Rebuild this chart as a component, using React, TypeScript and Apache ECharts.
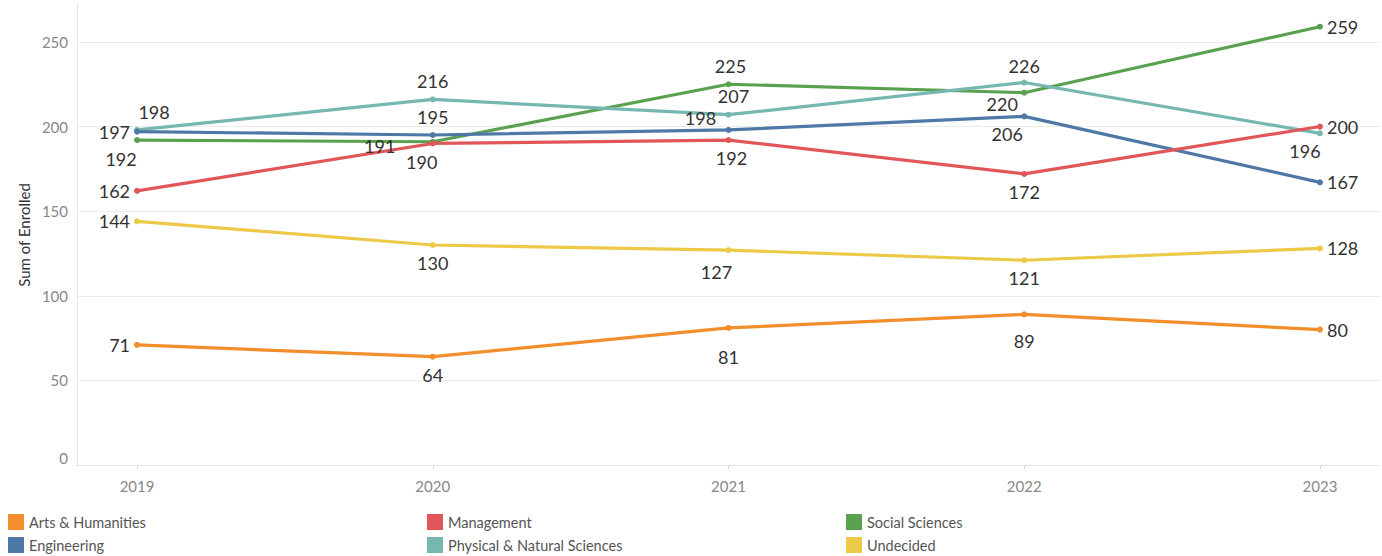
import React, { useEffect, useRef } from "react";
import * as echarts from "echarts";

const YEARS = [2019, 2020, 2021, 2022, 2023];
const ARTS = [71, 64, 81, 89, 80];
const MANAGEMENT = [162, 190, 192, 172, 200];
const SOCIAL = [192, 191, 225, 220, 259];
const ENGINEERING = [197, 195, 198, 206, 167];
const PHYSICAL = [198, 216, 207, 226, 196];
const UNDECIDED = [144, 130, 127, 121, 128];
const Y_TICKS = [0, 50, 100, 150, 200, 250];

const COLORS: Record<string, string> = {
  "Arts & Humanities": "#F28E2B",
  Management: "#E15759",
  "Social Sciences": "#59A14F",
  Engineering: "#4E79A7",
  "Physical & Natural Sciences": "#76B7B2",
  Undecided: "#EDC948",
};

type Place = "left" | "right" | [number, number];
const LABEL_PLACES: Record<string, Place[]> = {
  "Arts & Humanities": ["left", [0, 18], [0, 29], [0, 27], "right"],
  Management: ["left", [-11, 19], [3, 18], [0, 18], "right"],
  "Social Sciences": [[-16, 19], [-53, 4], [2, -18], [-22, 11], "right"],
  Engineering: ["left", [0, -18], [-28, -12], [-17, 18], "right"],
  "Physical & Natural Sciences": [[17, -18], [0, -18], [5, -19], [0, -17], [-15, 18]],
  Undecided: ["left", [0, 18], [-12, 22], [0, 18], "right"],
};

const VALUES: Record<string, number[]> = {
  "Arts & Humanities": ARTS,
  Management: MANAGEMENT,
  "Social Sciences": SOCIAL,
  Engineering: ENGINEERING,
  "Physical & Natural Sciences": PHYSICAL,
  Undecided: UNDECIDED,
};

const DRAW_ORDER = [
  "Social Sciences",
  "Physical & Natural Sciences",
  "Engineering",
  "Management",
  "Undecided",
  "Arts & Humanities",
];

const FONT = "Lato, 'Noto Sans', sans-serif";
const SYMBOL = 6;

export default function App() {
  const ref = useRef<HTMLDivElement>(null);
  useEffect(() => {
    if (!ref.current) return;
    const chart = echarts.init(ref.current, undefined, { renderer: "svg" });

    const series = DRAW_ORDER.map((name) => ({
      name,
      type: "line",
      symbol: "circle",
      symbolSize: SYMBOL,
      color: COLORS[name],
      lineStyle: { width: 3.2, color: COLORS[name] },
      itemStyle: { color: COLORS[name] },
      emphasis: { disabled: true },
      data: VALUES[name].map((v, i) => {
        const p = LABEL_PLACES[name][i];
        const label: any =
          p === "left" || p === "right"
            ? { position: p, distance: 4 }
            : {
                position: [SYMBOL / 2 + p[0], SYMBOL / 2 + p[1]],
                align: "center",
                verticalAlign: "middle",
              };
        return { value: [YEARS[i], v], label };
      }),
      label: {
        show: true,
        fontSize: 18,
        color: "#333",
        fontFamily: FONT,
        formatter: (prm: any) => String(prm.value[1]),
      },
      labelLayout: { hideOverlap: false },
    }));

    const legendCommon = {
      orient: "vertical",
      icon: "rect",
      itemWidth: 16,
      itemHeight: 16,
      itemGap: 7,
      padding: 0,
      top: 514,
      textStyle: { fontSize: 14.5, color: "#555", fontFamily: FONT },
      selectedMode: false,
    };

    chart.setOption({
      animation: false,
      backgroundColor: "#fff",
      grid: { left: 77, right: 2, top: 3, bottom: 91 },
      xAxis: {
        type: "value",
        min: 2018.797,
        max: 2023.203,
        axisLine: { show: true, lineStyle: { color: "#d9d9d9", type: [2, 2], width: 1 } },
        axisTick: {
          show: true,
          length: 4,
          customValues: YEARS,
          lineStyle: { color: "#d9d9d9" },
        },
        axisLabel: {
          customValues: YEARS,
          formatter: (v: number) => String(v),
          fontSize: 15,
          color: "#888",
          fontFamily: FONT,
          margin: 13,
        },
        splitLine: { show: false },
      },
      yAxis: {
        type: "value",
        min: 0,
        max: 273,
        interval: 50,
        axisLine: { show: true, lineStyle: { color: "#e6e6e6" } },
        axisTick: { show: false },
        axisLabel: {
          fontSize: 15,
          color: "#888",
          fontFamily: FONT,
          margin: 9,
          showMaxLabel: false,
          verticalAlignMinLabel: "bottom",
          formatter: (v: number) => (Y_TICKS.includes(v) ? String(v) : ""),
        },
        splitLine: {
          show: true,
          showMinLine: false,
          showMaxLine: false,
          lineStyle: { color: "#ececec", width: 1 },
        },
      },
      legend: [
        { ...legendCommon, left: 8, data: ["Arts & Humanities", "Engineering"] },
        { ...legendCommon, left: 427, data: ["Management", "Physical & Natural Sciences"] },
        { ...legendCommon, left: 846, data: ["Social Sciences", "Undecided"] },
      ],
      graphic: [
        {
          type: "text",
          x: 24,
          y: 235,
          rotation: Math.PI / 2,
          style: {
            text: "Sum of Enrolled",
            fontSize: 15,
            fill: "#333",
            fontFamily: FONT,
            align: "center",
            verticalAlign: "middle",
          },
        },
      ],
      series,
    });
    return () => chart.dispose();
  }, []);
  return (
    <div
      ref={ref}
      style={{ position: "fixed", left: 0, top: 0, width: 1382, height: 556 }}
    />
  );
}
